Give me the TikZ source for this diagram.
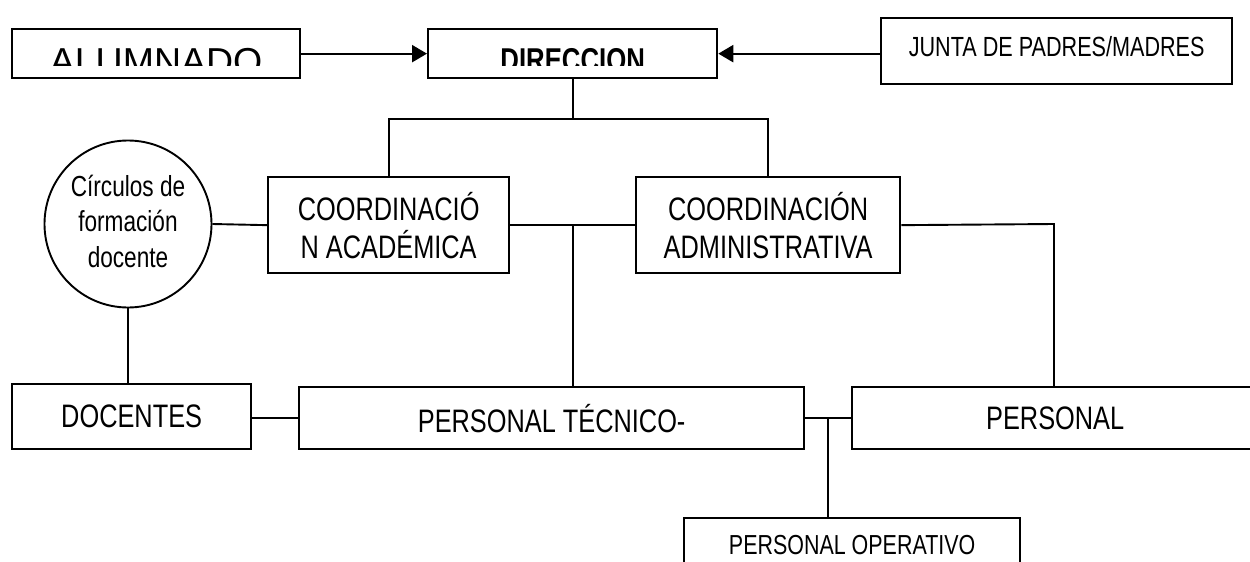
\documentclass[tikz,border=0pt]{standalone}
\usepackage{fontspec}
\setmainfont{Liberation Sans}
\newfontfamily\narrow[FakeStretch=0.78]{Liberation Sans}
\usetikzlibrary{arrows.meta,shapes.geometric,calc}
\begin{document}
\begin{tikzpicture}[x=1pt,y=-1pt,
  box/.style={draw, line width=2.3pt, inner sep=0pt, anchor=north west},
  lbl/.style={font=\narrow\fontsize{32.5}{38}\selectfont, align=center},
  conn/.style={line width=1.9pt},
  arr/.style={line width=2.3pt, -{Triangle[length=15pt,width=17pt]}}]
\useasboundingbox (0,0) rectangle (1250,562);
\clip (0,0) rectangle (1250,562);
% top row
\node[box, minimum width=288pt, minimum height=49pt] (alum) at (11,28) {};
\node[box, minimum width=289pt, minimum height=49pt] (dir) at (427,28) {};
\node[box, minimum width=351pt, minimum height=66pt] (junta) at (880,17) {};
\begin{scope}
  \clip (0,0) rectangle (1250,65.5);
  \node[font=\fontsize{37.5}{38}\selectfont, anchor=base, inner sep=0pt] (alumtxt) at ([yshift=-21pt]alum.center) {ALUMNADO};
  \node[font=\narrow\bfseries\fontsize{33}{34}\selectfont, anchor=base, inner sep=0pt] (dirtxt) at ([yshift=-18pt]dir.center) {DIRECCION};
\end{scope}
\node[font=\narrow\fontsize{27.7}{30}\selectfont, anchor=base, inner sep=0pt] (juntatxt) at ([yshift=-5pt]junta.center) {JUNTA DE PADRES/MADRES};
% middle row
\node[box, lbl, minimum width=241pt, minimum height=96pt] (acad) at (267,176) {COORDINACIÓ\\N ACADÉMICA};
\node[box, lbl, minimum width=264pt, minimum height=96pt] (admin) at (635,176) {COORDINACIÓN\\ADMINISTRATIVA};
\node[draw, circle, line width=1.9pt, minimum size=167pt, inner sep=0pt] (circ) at (128,224) {};
\node[font=\narrow\fontsize{29}{35.5}\selectfont, align=center, inner sep=0pt] (circtxt) at ([yshift=3pt]circ.center) {Círculos de\\formación\\docente};
% bottom row
\node[box, lbl, minimum width=239pt, minimum height=65pt] (doc) at (11,383) {DOCENTES};
\node[box, lbl, minimum width=505pt, minimum height=62pt] (tec) at (298,386) {PERSONAL TÉCNICO-};
\node[box, lbl, minimum width=406pt, minimum height=62pt] (pers) at (851,386) {PERSONAL};
\node[box, minimum width=336pt, minimum height=100pt] (oper) at (683,517) {};
\node[font=\narrow\fontsize{27.5}{30}\selectfont, anchor=base, inner sep=0pt] (opertxt) at (oper.north |- 0,554) {PERSONAL OPERATIVO};
% arrows
\draw[arr] (alum.east) -- (dir.west);
\draw[arr] (dir.east -| junta.west) -- (dir.east);
% connectors
\coordinate (j1) at ([yshift=-40pt]dir.south);
\draw[conn] (dir.south) -- (j1);
\draw[conn] (acad.north) |- (j1) -| (admin.north);
\draw[conn] (circ.east) -- (acad.west);
\draw[conn] (acad.east) -- (admin.west);
\coordinate (j2) at (dir.south |- acad.east);
\draw[conn] (j2) -- (j2 |- tec.north);
\coordinate (j4) at (1054,224);
\draw[conn] (admin.east) -- (j4) -- (j4 |- pers.north);
\draw[conn] (circ.south) -- (circ.south |- doc.north);
\draw[conn] (doc.east |- tec.west) -- (tec.west);
\draw[conn] (tec.east) -- (pers.west);
\coordinate (j3) at ($(tec.east)!0.5!(pers.west)$);
\draw[conn] (j3) -- (j3 |- oper.north);
\end{tikzpicture}
\end{document}
